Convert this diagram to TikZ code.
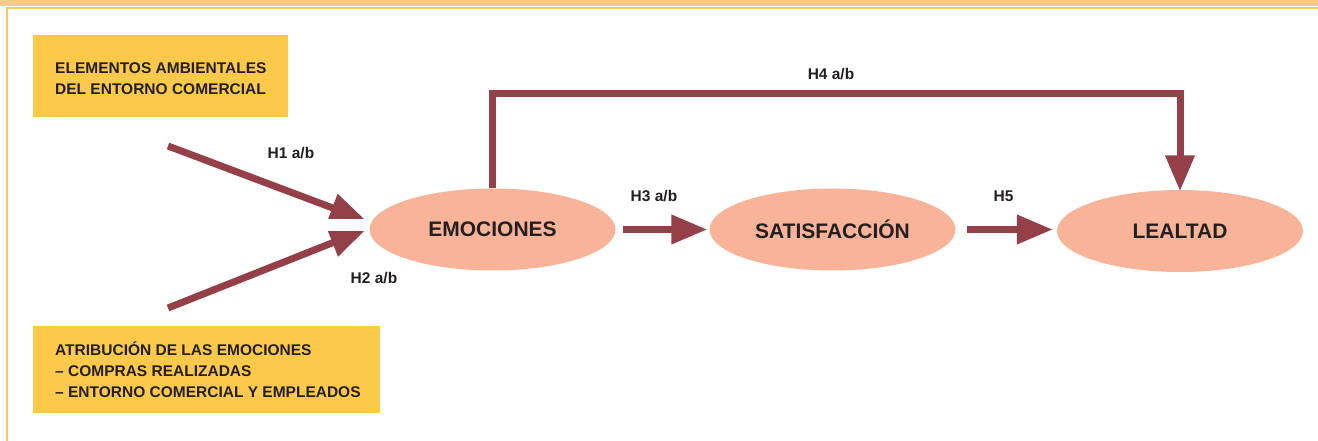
\documentclass[tikz,border=0pt]{standalone}
\usepackage{fontspec}
\setmainfont{Liberation Sans}
\usetikzlibrary{arrows.meta,shapes.geometric}
\definecolor{arrowred}{HTML}{954049}
\definecolor{boxyellow}{HTML}{FDC94B}
\definecolor{ellfill}{HTML}{F8B398}
\definecolor{txt}{HTML}{231F20}
\definecolor{band}{HTML}{F6CE7C}
\definecolor{frameline}{HTML}{F8CB62}
\begin{document}
\begin{tikzpicture}[x=1pt,y=-1pt,
  arr/.style={draw=arrowred, line width=7pt, line join=miter,
    -{Triangle[length=36pt,width=28pt]}},
  ybox/.style={fill=boxyellow, draw=none, rectangle, inner sep=0pt, anchor=north west},
  boxtext/.style={text=txt, font=\bfseries\fontsize{15.5}{21}\selectfont, align=left, inner sep=0pt, anchor=west},
  ell/.style={ellipse, fill=ellfill, draw=none, minimum width=246pt, minimum height=82pt, inner sep=0pt,
    text=txt, font=\bfseries\fontsize{21}{24}\selectfont},
  hlabel/.style={text=txt, font=\bfseries\fontsize{15.5}{18}\selectfont, inner sep=0pt}
]
\useasboundingbox (0,0) rectangle (1318,441);
% frame
\fill[band] (0,0) rectangle (1318,5.7);
\fill[frameline] (6,7) rectangle (1318,9);
\fill[frameline] (6,7) rectangle (8,441);

% boxes
\node[ybox, minimum width=255pt, minimum height=82pt] (b1) at (33,35) {};
\node[boxtext] (t1) at ([xshift=22pt,yshift=-2.5pt]b1.west) {ELEMENTOS AMBIENTALES\\DEL ENTORNO COMERCIAL};
\node[ybox, minimum width=347pt, minimum height=87pt] (b2) at (33,326) {};
\node[boxtext] (t2) at ([xshift=22pt,yshift=-0.5pt]b2.west) {ATRIBUCIÓN DE LAS EMOCIONES\\– COMPRAS REALIZADAS\\– ENTORNO COMERCIAL Y EMPLEADOS};

% free ends
\coordinate (h1s) at (168,146);
\coordinate (h1t) at (366,220.5);
\coordinate (h2s) at (168,308);
\coordinate (h2t) at (366,229.5);
\coordinate (topy) at (0,94);

\begin{scope}
  \clip (0,0) rectangle (368.5,218.3);
  \draw[arr] (h1s) -- (h1t);
\end{scope}
\begin{scope}
  \clip (0,231.7) rectangle (368.5,441);
  \draw[arr] (h2s) -- (h2t);
\end{scope}

% ellipses
\node[ell] (emo) at (492.5,229.5) {EMOCIONES};
\node[ell] (sat) at (832.5,229.5) {SATISFACCIÓN};
\node[ell] (lea) at (1180,231) {LEALTAD};

\draw[arr, shorten <=7pt, shorten >=2pt] (emo.east) -- (sat.west);
\draw[arr, shorten <=11pt, shorten >=4pt] (sat.east) -- (sat.east -| lea.west);
\draw[arr] (emo.north) -- (emo.north |- topy) -| ([yshift=-1.5pt]lea.north);

% labels
\node[hlabel] (l1) at (291,153) {H1 a/b};
\node[hlabel] (l2) at (374,278.5) {H2 a/b};
\node[hlabel] (l3) at (654,196.5) {H3 a/b};
\node[hlabel] (l4) at (831,74) {H4 a/b};
\node[hlabel] (l5) at (1003.5,196.5) {H5};
\end{tikzpicture}
\end{document}
